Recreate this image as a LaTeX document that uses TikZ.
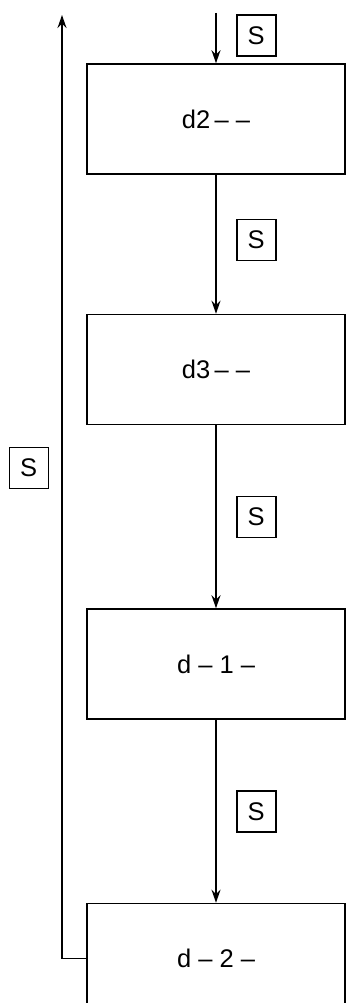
\documentclass[tikz,border=0pt]{standalone}
\usepackage{fontspec}
\setmainfont{Liberation Sans}
\usetikzlibrary{arrows.meta, positioning}

\begin{document}
\begin{tikzpicture}[
    x=1pt, y=-1pt,
    stage/.style={rectangle, draw, line width=1.5pt, minimum width=258pt, minimum height=110pt, font=\fontsize{25.5}{30}\selectfont},
    sig/.style={rectangle, draw, line width=1.5pt, minimum width=39pt, minimum height=41pt, inner sep=0pt, font=\fontsize{25.5}{30}\selectfont},
    arrow/.style={draw, line width=1.5pt, -{Stealth[length=13pt, width=9pt]}}
]
\useasboundingbox (0,0) rectangle (346,1003);

% Stages
\node[stage] (d2) at (216,119) {d2\,–\;–};
\node[stage, below=139pt of d2] (d3) {d3\,–\;–};
\node[stage, below=183pt of d3] (dm1) {d – 1 –};
\node[stage, below=183pt of dm1] (dm2) {d – 2 –};

% Connections
\coordinate (in) at (216,13);
\coordinate (back) at (62,15);
\draw[arrow] (in) -- node[sig, right=20pt, pos=0.45] {S} (d2);
\draw[arrow] (d2) -- node[sig, right=20pt, pos=0.47] {S} (d3);
\draw[arrow] (d3) -- node[sig, right=20pt] {S} (dm1);
\draw[arrow] (dm1) -- node[sig, right=20pt] {S} (dm2);
\draw[arrow] (dm2.west) -| node[sig, left=13pt, pos=0.76] {S} (back);

\end{tikzpicture}
\end{document}
